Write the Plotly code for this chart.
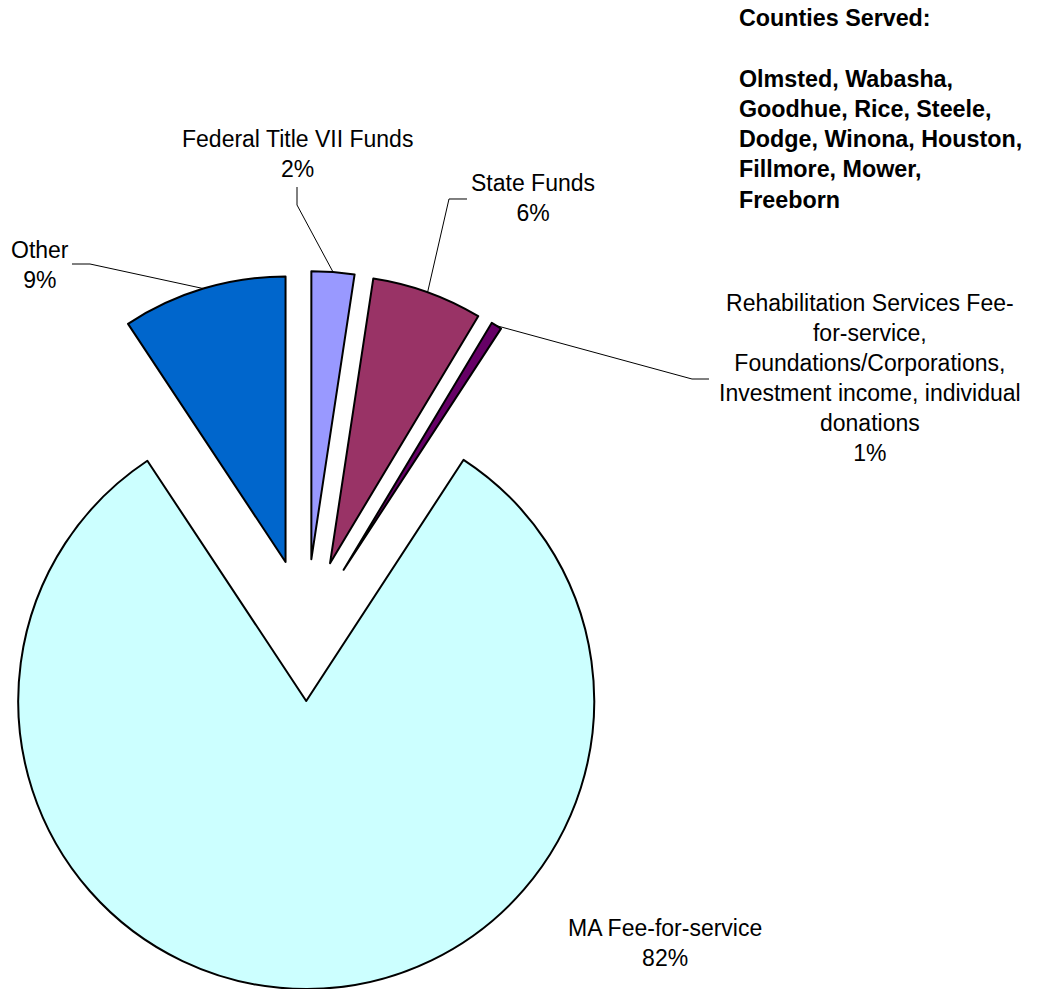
import math
import plotly.graph_objects as go

# ---- data ----
labels = [
    "Federal Title VII Funds",
    "State Funds",
    "Rehabilitation Services Fee-for-service, Foundations/Corporations, Investment income, individual donations",
    "MA Fee-for-service",
    "Other",
]
values = [2.4, 6.2, 0.6, 81.5, 9.3]
label_lines = [
    ["Federal Title VII Funds"],
    ["State Funds"],
    ["Rehabilitation Services Fee-", "for-service,", "Foundations/Corporations,",
     "Investment income, individual", "donations"],
    ["MA Fee-for-service"],
    ["Other"],
]
colors = ["#9999FF", "#993366", "#660066", "#CCFFFF", "#0066CC"]
counties_title = "Counties Served:"
counties = ["Olmsted, Wabasha,", "Goodhue, Rice, Steele,", "Dodge, Winona, Houston,",
            "Fillmore, Mower,", "Freeborn"]

# ---- layout geometry (pixels) ----
W, H = 1040, 989
CX, CY = 306, 630      # pie centre before explosion
R = 288                # pie radius
EXPLODE = 71           # explosion distance of every slice
FONT = "Arial, Liberation Sans, sans-serif"

# label centres and leader-line elbows (pixels)
label_pos = [(297, 154), (533, 198), (870, 378), (665, 943), (40, 265)]
leader_elbows = [
    [(297, 205), (297, 187)],
    [(449, 199), (467, 199)],
    [(692, 379), (709, 379)],
    None,
    [(90, 264), (72, 264)],
]

total = sum(values)
fig = go.Figure()
shapes = []
annotations = []
cum = 0.0


def px2paper(x, y):
    return x / W, 1 - y / H


for i, v in enumerate(values):
    mid = math.radians((cum + v / 2) / total * 360)
    cum += v
    ax = CX + EXPLODE * math.sin(mid)
    ay = CY - EXPLODE * math.cos(mid)
    r = min(R, ax, W - ax, ay, H - ay)
    fig.add_trace(go.Pie(
        values=values,
        labels=labels,
        sort=False,
        direction="clockwise",
        rotation=0,
        textinfo="none",
        hoverinfo="label+percent",
        showlegend=False,
        marker=dict(
            colors=[colors[j] if j == i else "rgba(0,0,0,0)" for j in range(len(values))],
            line=dict(
                color=["black" if j == i else "rgba(0,0,0,0)" for j in range(len(values))],
                width=[2 if j == i else 0 for j in range(len(values))],
            ),
        ),
        domain=dict(x=[(ax - r) / W, (ax + r) / W], y=[1 - (ay + r) / H, 1 - (ay - r) / H]),
    ))
    # leader line from arc mid-point to label
    if leader_elbows[i]:
        ex = ax + r * math.sin(mid)
        ey = ay - r * math.cos(mid)
        pts = [(ex, ey)] + leader_elbows[i]
        path = ""
        for k, (x, y) in enumerate(pts):
            px_, py_ = px2paper(x, y)
            path += ("M" if k == 0 else " L") + f"{px_:.5f},{py_:.5f}"
        shapes.append(dict(type="path", path=path, xref="paper", yref="paper",
                           line=dict(color="black", width=1)))
    pct = round(v / total * 100)
    lx, ly = px2paper(*label_pos[i])
    annotations.append(dict(
        text="<br>".join(label_lines[i] + [f"{pct}%"]),
        x=lx, y=ly, xref="paper", yref="paper",
        xanchor="center", yanchor="middle", align="center",
        showarrow=False, font=dict(family=FONT, size=23, color="black"),
    ))

cx_, cy_ = px2paper(737, 109)
annotations.append(dict(
    text="<b>" + "<br>".join([counties_title, ""] + counties) + "</b>",
    x=cx_, y=cy_, xref="paper", yref="paper",
    xanchor="left", yanchor="middle", align="left",
    showarrow=False, font=dict(family=FONT, size=23.3, color="black"),
))

fig.update_layout(
    width=W, height=H,
    margin=dict(l=0, r=0, t=0, b=0),
    paper_bgcolor="white", plot_bgcolor="white",
    shapes=shapes, annotations=annotations,
    showlegend=False,
)
fig.write_html("out.html")
